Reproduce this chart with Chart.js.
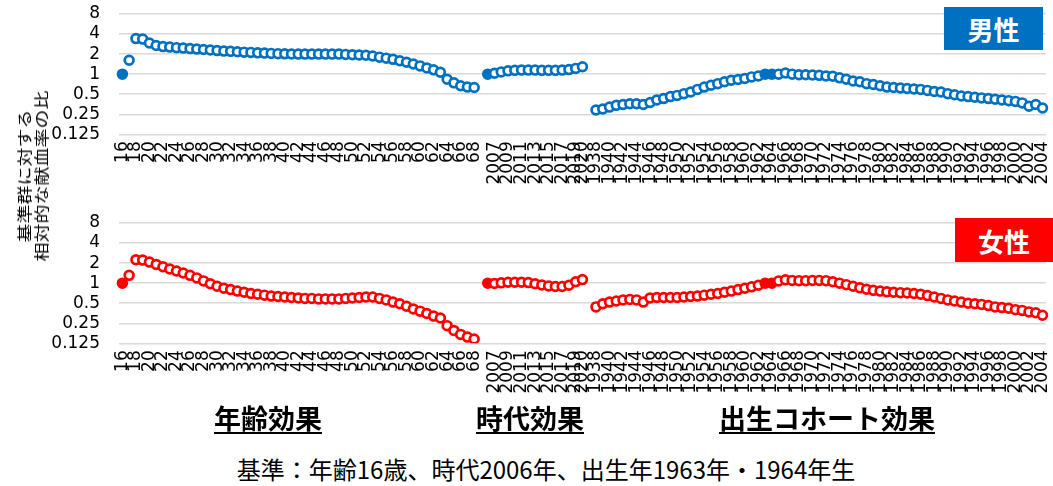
<!DOCTYPE html>
<html lang="en">
<head>
<meta charset="UTF-8">
<title>献血率の年齢・時代・出生コホート効果</title>
<script src="https://cdn.jsdelivr.net/npm/chart.js"></script>
<style>
  body { margin: 0; background: #fff; font-family: "Noto Sans CJK JP", sans-serif; color: #000; }
  .wrap { position: relative; width: 1053px; height: 486px; overflow: hidden; }
  canvas { position: absolute; left: 0; }
  #maleChart { top: 0; }
  #femaleChart { top: 209px; }
  .sex {
    position: absolute; color: #fff; font-weight: 700; font-size: 26px;
    display: flex; align-items: center; justify-content: center; z-index: 2;
  }
  .male { background: #0070c0; left: 944px; top: 7px; width: 99px; height: 43px; }
  .female { background: #ff0000; left: 955px; top: 218px; width: 98px; height: 44px; }
  .ytitle {
    position: absolute; left: 32px; top: 176px; white-space: nowrap;
    transform: translate(-50%, -50%) rotate(-90deg) scale(1, 0.8);
    font-size: 19px; line-height: 22px; text-align: center;
  }
  .effect {
    position: absolute; top: 402px; font-size: 27px; line-height: 32px; font-weight: 700;
    text-decoration: underline; text-decoration-thickness: 2px; text-underline-offset: 3px;
    transform: translateX(-50%); white-space: nowrap;
  }
  .note {
    position: absolute; top: 454px; left: 546px; transform: translateX(-50%);
    font-size: 24px; line-height: 30px; white-space: nowrap;
  }
</style>
</head>
<body>
<div class="wrap">
  <canvas id="maleChart" width="1053" height="200"></canvas>
  <canvas id="femaleChart" width="1053" height="200"></canvas>
  <div class="sex male" lang="ja">男性</div>
  <div class="sex female" lang="ja">女性</div>
  <div class="ytitle" lang="ja">基準群に対する<br>相対的な献血率の比</div>
  <div class="effect" lang="ja" style="left:268px">年齢効果</div>
  <div class="effect" lang="ja" style="left:530px">時代効果</div>
  <div class="effect" lang="ja" style="left:827px">出生コホート効果</div>
  <div class="note" lang="ja">基準：年齢16歳、時代2006年、出生年1963年・1964年生</div>
</div>
<script>
// categories
const ages = [16, 17, 18, 19, 20, 21, 22, 23, 24, 25, 26, 27, 28, 29, 30, 31, 32, 33, 34, 35,
  36, 37, 38, 39, 40, 41, 42, 43, 44, 45, 46, 47, 48, 49, 50, 51, 52, 53, 54, 55,
  56, 57, 58, 59, 60, 61, 62, 63, 64, 65, 66, 67, 68];
const periods = [2006, 2007, 2008, 2009, 2010, 2011, 2012, 2013, 2014, 2015, 2016, 2017, 2018, 2019, 2020];
const cohorts = [1938, 1939, 1940, 1941, 1942, 1943, 1944, 1945, 1946, 1947, 1948, 1949, 1950, 1951,
  1952, 1953, 1954, 1955, 1956, 1957, 1958, 1959, 1960, 1961, 1962, 1963, 1964, 1965,
  1966, 1967, 1968, 1969, 1970, 1971, 1972, 1973, 1974, 1975, 1976, 1977, 1978, 1979,
  1980, 1981, 1982, 1983, 1984, 1985, 1986, 1987, 1988, 1989, 1990, 1991, 1992, 1993,
  1994, 1995, 1996, 1997, 1998, 1999, 2000, 2001, 2002, 2003, 2004];

// reference groups (drawn filled)
const refGroups = [16, 2006, 1963, 1964];

// ratio to reference group, men
const maleAge = [1.00, 1.62, 3.42, 3.36, 2.93, 2.69, 2.59, 2.55, 2.50, 2.46, 2.42, 2.38, 2.34, 2.30,
  2.26, 2.22, 2.20, 2.17, 2.14, 2.12, 2.09, 2.07, 2.05, 2.03, 2.02, 2.01, 2.00, 2.00, 2.00,
  2.00, 2.00, 2.00, 2.00, 1.98, 1.96, 1.94, 1.92, 1.87, 1.80, 1.74, 1.67, 1.59, 1.51, 1.42,
  1.33, 1.24, 1.16, 1.07, 0.84, 0.74, 0.67, 0.64, 0.63];
const malePeriod = [1.00, 1.03, 1.08, 1.12, 1.14, 1.15, 1.15, 1.15, 1.14, 1.14, 1.14, 1.15, 1.17, 1.22, 1.29];
const maleCohort = [0.29, 0.30, 0.32, 0.34, 0.35, 0.36, 0.36, 0.35, 0.375, 0.41, 0.43, 0.46, 0.48,
  0.51, 0.54, 0.59, 0.64, 0.68, 0.72, 0.77, 0.81, 0.83, 0.86, 0.91, 0.94, 1.00, 1.00, 1.00,
  1.04, 1.00, 0.98, 0.98, 0.97, 0.96, 0.94, 0.93, 0.88, 0.84, 0.79, 0.77, 0.72, 0.70, 0.67,
  0.64, 0.63, 0.62, 0.61, 0.60, 0.59, 0.57, 0.55, 0.54, 0.51, 0.49, 0.47, 0.46, 0.45, 0.44,
  0.43, 0.42, 0.41, 0.40, 0.39, 0.37, 0.33, 0.35, 0.31];

// ratio to reference group, women
const femaleAge = [1.00, 1.31, 2.25, 2.22, 2.07, 1.91, 1.76, 1.63, 1.52, 1.42, 1.31, 1.20, 1.08, 0.98,
  0.90, 0.84, 0.80, 0.76, 0.73, 0.70, 0.68, 0.66, 0.64, 0.63, 0.62, 0.61, 0.60, 0.59, 0.59,
  0.58, 0.58, 0.58, 0.58, 0.59, 0.60, 0.61, 0.62, 0.62, 0.59, 0.56, 0.52, 0.49, 0.45, 0.41,
  0.38, 0.35, 0.32, 0.30, 0.23, 0.195, 0.17, 0.155, 0.145];
const femalePeriod = [1.00, 0.99, 1.01, 1.03, 1.03, 1.03, 1.02, 0.98, 0.94, 0.91, 0.89, 0.89, 0.93, 1.05, 1.13];
const femaleCohort = [0.44, 0.49, 0.52, 0.54, 0.56, 0.57, 0.56, 0.52, 0.60, 0.61, 0.61, 0.61, 0.61,
  0.62, 0.63, 0.64, 0.66, 0.68, 0.70, 0.73, 0.76, 0.80, 0.84, 0.88, 0.93, 1.00, 1.00, 1.08,
  1.12, 1.10, 1.09, 1.09, 1.10, 1.10, 1.09, 1.05, 1.00, 0.95, 0.90, 0.85, 0.81, 0.78, 0.76,
  0.74, 0.73, 0.72, 0.71, 0.70, 0.68, 0.65, 0.62, 0.59, 0.56, 0.54, 0.52, 0.50, 0.49, 0.48,
  0.46, 0.44, 0.43, 0.42, 0.40, 0.39, 0.37, 0.36, 0.33];

// tick labels
const yTicks = [0.125, 0.25, 0.5, 1, 2, 4, 8];
const ageTicks = [16, 18, 20, 22, 24, 26, 28, 30, 32, 34, 36, 38, 40, 42, 44, 46, 48, 50, 52, 54,
  56, 58, 60, 62, 64, 66, 68];
const periodTicks = [2007, 2009, 2011, 2013, 2015, 2017, 2019, 2020];
const cohortTicks = [1938, 1940, 1942, 1944, 1946, 1948, 1950, 1952, 1954, 1956, 1958, 1960, 1962,
  1964, 1966, 1968, 1970, 1972, 1974, 1976, 1978, 1980, 1982, 1984, 1986, 1988, 1990, 1992,
  1994, 1996, 1998, 2000, 2002, 2004];

// one category axis: ages, gap, periods, gap, cohorts
const labels = [...ages, '', ...periods, '', ...cohorts].map(String);
const shown = new Set([...ageTicks, ...periodTicks, ...cohortTicks].map(String));
const refSet = new Set(refGroups.map(String));

const tickFont = { family: '"DejaVu Sans"', size: 17 };

// keep the plot box fixed: no extra room asked for by the tick labels
function noPadding(s) {
  s.paddingTop = 0;
  s.paddingBottom = 0;
  s.paddingLeft = 0;
  s.paddingRight = 0;
}

function makeChart(id, age, period, cohort, color) {
  const data = [...age, null, ...period, null, ...cohort];
  return new Chart(document.getElementById(id), {
    type: 'line',
    data: {
      labels: labels,
      datasets: [{
        data: data,
        showLine: false,
        borderColor: color,
        pointBorderColor: color,
        pointBackgroundColor: ctx => refSet.has(labels[ctx.dataIndex]) ? color : '#fff',
        pointRadius: 4.4,
        pointBorderWidth: 2.7,
        pointHoverRadius: 4.4
      }]
    },
    options: {
      responsive: false,
      animation: false,
      events: [],
      layout: { padding: { top: 14, right: 6.5, left: 0, bottom: 0 } },
      plugins: { legend: { display: false }, tooltip: { enabled: false } },
      scales: {
        x: {
          type: 'category',
          offset: true,
          afterFit: s => { s.height = 65.7; noPadding(s); },
          grid: { display: false, drawTicks: false },
          border: { display: false },
          ticks: {
            autoSkip: false,
            minRotation: 90,
            maxRotation: 90,
            padding: 7,
            color: '#000',
            font: tickFont,
            callback: (v, i) => shown.has(labels[i]) ? labels[i] : ''
          }
        },
        y: {
          type: 'logarithmic',
          min: 0.125,
          max: 8,
          afterBuildTicks: s => { s.ticks = yTicks.map(v => ({ value: v })); },
          afterFit: s => { s.width = 119; noPadding(s); },
          grid: { color: '#d9d9d9', lineWidth: 1.5, drawTicks: false },
          border: { display: false },
          ticks: {
            autoSkip: false,
            padding: 19,
            color: '#000',
            font: tickFont,
            callback: v => String(v)
          }
        }
      }
    }
  });
}

makeChart('maleChart', maleAge, malePeriod, maleCohort, '#0070c0');
makeChart('femaleChart', femaleAge, femalePeriod, femaleCohort, '#ff0000');
</script>
</body>
</html>
